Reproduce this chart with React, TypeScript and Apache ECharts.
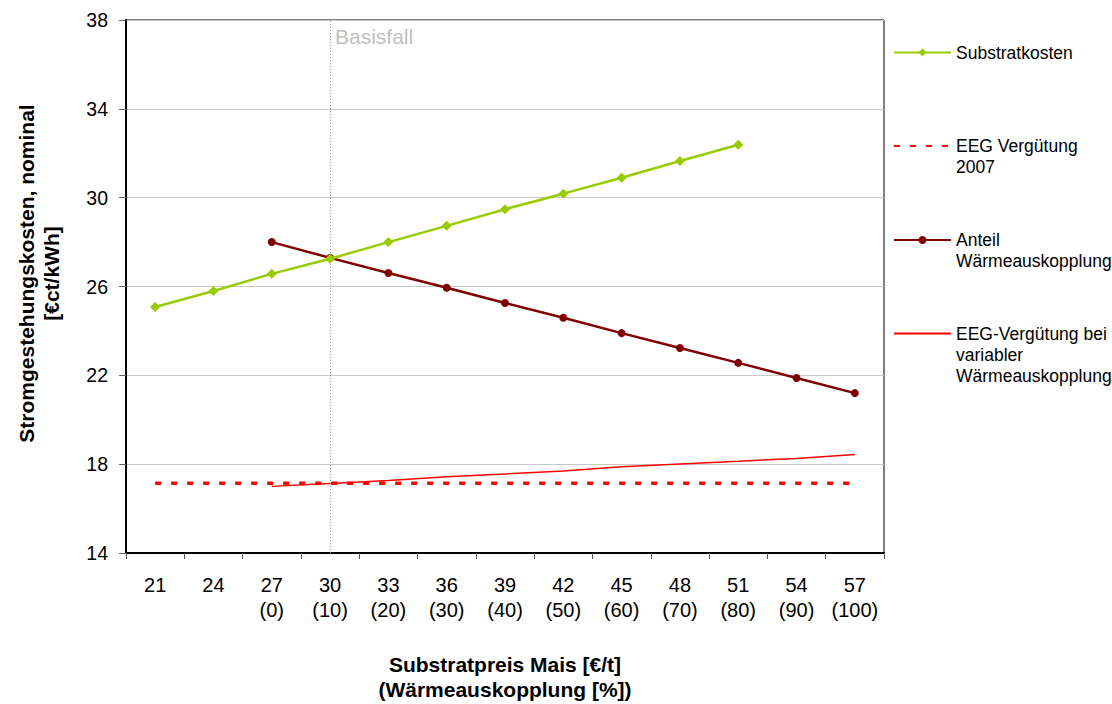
import React, { useEffect, useRef } from "react";
import * as echarts from "echarts";

const categories = ["21", "24", "27", "30", "33", "36", "39", "42", "45", "48", "51", "54", "57"];
const heatShareLabels = ["", "", "(0)", "(10)", "(20)", "(30)", "(40)", "(50)", "(60)", "(70)", "(80)", "(90)", "(100)"];

const substratkosten = [25.08, 25.8, 26.57, 27.25, 28.0, 28.73, 29.48, 30.18, 30.9, 31.65, 32.38, null, null];
const eeg2007 = [17.14, 17.14, 17.14, 17.14, 17.14, 17.14, 17.14, 17.14, 17.14, 17.14, 17.14, 17.14, 17.14];
const anteilWaerme = [null, null, 28.0, 27.29, 26.61, 25.94, 25.26, 24.59, 23.9, 23.23, 22.56, 21.88, 21.2];
const eegVariabel = [null, null, 17.0, 17.13, 17.26, 17.43, 17.56, 17.69, 17.88, 18.01, 18.13, 18.26, 18.43];

const yTicks = { min: 14, max: 38, interval: 4 };

const names = {
  s: "Substratkosten",
  e: "EEG Vergütung 2007",
  a: "Anteil Wärmeauskopplung",
  v: "EEG-Vergütung bei variabler Wärmeauskopplung",
};
// leading empty lines keep the first text line level with the legend icon
const legendText: Record<string, string> = {
  [names.s]: "Substratkosten",
  [names.e]: "\nEEG Vergütung\n2007",
  [names.a]: "\nAnteil\nWärmeauskopplung",
  [names.v]: "\n\nEEG-Vergütung bei\nvariabler\nWärmeauskopplung",
};

const FONT = "Liberation Sans, Arial, sans-serif";

export default function App() {
  const ref = useRef<HTMLDivElement>(null);
  useEffect(() => {
    if (!ref.current) return;
    const chart = echarts.init(ref.current, undefined, { renderer: "svg" });
    const mkLegend = (name: string, top: number, hideSymbol: boolean) => ({
      data: [name],
      orient: "vertical",
      left: 893,
      top,
      padding: 0,
      itemWidth: 57,
      itemHeight: 10,
      itemGap: 5,
      selectedMode: false,
      formatter: (n: string) => legendText[n] || n,
      itemStyle: hideSymbol ? { opacity: 0 } : {},
      textStyle: {
        fontFamily: FONT,
        fontSize: 17.5,
        lineHeight: 21,
        color: "#000",
      },
    });
    chart.setOption({
      animation: false,
      textStyle: { fontFamily: FONT },
      grid: {
        left: 126,
        right: 228,
        top: 20,
        bottom: 151,
        show: true,
        borderColor: "#000",
        borderWidth: 1,
        backgroundColor: "#fff",
        outerBoundsMode: "none",
        containLabel: false,
      },
      legend: [
        mkLegend(names.s, 42, false),
        mkLegend(names.e, 114.5, true),
        mkLegend(names.a, 208.5, false),
        mkLegend(names.v, 281, true),
      ],
      graphic: [
        {
          type: "text",
          left: 335,
          top: 26,
          style: { text: "Basisfall", fill: "#c0c0c0", fontSize: 21, fontFamily: FONT },
        },
      ],
      xAxis: {
        type: "category",
        data: categories,
        boundaryGap: true,
        axisLine: { lineStyle: { color: "#000", width: 2 } },
        axisTick: { show: true, length: 6, lineStyle: { color: "#555" } },
        axisLabel: {
          color: "#000",
          fontSize: 20,
          lineHeight: 25,
          margin: 19,
          interval: 0,
          formatter: (v: string, i: number) => (heatShareLabels[i] ? v + "\n" + heatShareLabels[i] : v),
        },
        splitLine: { show: false },
        name: "Substratpreis Mais [€/t]\n(Wärmeauskopplung [%])",
        nameLocation: "middle",
        nameGap: 99,
        nameTextStyle: { fontWeight: "bold", fontSize: 21, lineHeight: 25, color: "#000" },
      },
      yAxis: {
        type: "value",
        min: yTicks.min,
        max: yTicks.max,
        interval: yTicks.interval,
        axisLine: { show: true, lineStyle: { color: "#000", width: 2 } },
        axisTick: { show: true, length: 7, lineStyle: { color: "#666" } },
        axisLabel: { color: "#000", fontSize: 19.5, margin: 18 },
        splitLine: { lineStyle: { color: "#c8c8c8", width: 1 } },
        name: "Stromgestehungskosten, nominal\n[€ct/kWh]",
        nameLocation: "middle",
        nameGap: 62,
        nameTextStyle: { fontWeight: "bold", fontSize: 21, lineHeight: 25, color: "#000", padding: [0, 0, 0, 26] },
      },
      series: [
        {
          name: names.s,
          type: "line",
          data: substratkosten,
          color: "#99cc00",
          symbol: "diamond",
          symbolSize: 10,
          lineStyle: { width: 2.5, color: "#99cc00" },
          itemStyle: { color: "#99cc00" },
          z: 5,
          markLine: {
            silent: true,
            symbol: "none",
            label: { show: false },
            lineStyle: { color: "#999", type: [1, 2], width: 1 },
            data: [{ xAxis: "30" }],
          },
        },
        {
          name: names.e,
          type: "line",
          data: eeg2007,
          color: "#ff0000",
          symbol: "none",
          lineStyle: { width: 3.5, color: "#ff0000", type: [6, 10] },
          itemStyle: { color: "#ff0000" },
          z: 3,
        },
        {
          name: names.a,
          type: "line",
          data: anteilWaerme,
          color: "#800000",
          symbol: "circle",
          symbolSize: 8,
          lineStyle: { width: 2.5, color: "#800000" },
          itemStyle: { color: "#800000" },
          z: 4,
        },
        {
          name: names.v,
          type: "line",
          data: eegVariabel,
          color: "#ff0000",
          symbol: "none",
          lineStyle: { width: 1.5, color: "#ff0000" },
          itemStyle: { color: "#ff0000" },
          z: 3,
        },
      ],
    });
    return () => chart.dispose();
  }, []);
  return <div ref={ref} style={{ width: 1112, height: 704, position: "absolute", left: 0, top: 0, background: "#fff" }} />;
}
